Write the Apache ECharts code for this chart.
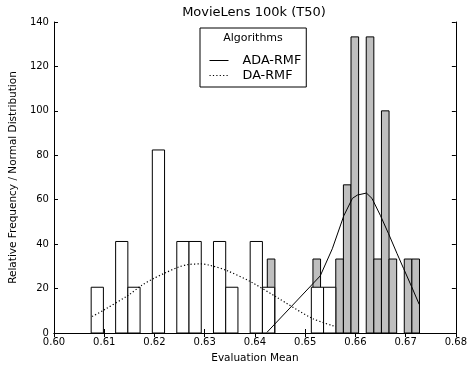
<!DOCTYPE html>
<html>
<head>
<meta charset="utf-8">
<script src="https://cdn.jsdelivr.net/npm/echarts@6/dist/echarts.min.js"></script>
<style>
  html, body { margin: 0; padding: 0; background: #fff; }
  #chart { width: 470px; height: 369px; }
</style>
</head>
<body>
<div id="chart"></div>
<script>
// histogram bins (DA-RMF white, ADA-RMF gray), density heights
const daStart = 0.6074;
const daWidth = 0.002435;
const daHeights = [20.6, 0, 41.2, 20.6, 0, 82.4, 0, 41.2, 41.2, 0, 41.2, 20.6, 0, 41.2, 20.6, 0, 0, 0, 20.6, 20.6];

const adaStart = 0.64246;
const adaWidth = 0.001515;
const adaHeights = [33.3, 0, 0, 0, 0, 0, 33.3, 0, 0, 33.3, 66.7, 133.3, 0, 133.3, 33.3, 100, 33.3, 0, 33.3, 33.3];

// normal distribution curves
const adaCurveX = [0.6424, 0.6530, 0.6554, 0.6577, 0.6594, 0.6604, 0.6622, 0.6633, 0.6650, 0.6666, 0.6683, 0.6696, 0.6712, 0.6727];
const adaCurveY = [0.3, 25.7, 37.9, 52.8, 60.6, 62.1, 63.0, 60.6, 52.8, 44.7, 35.7, 29.0, 20.8, 12.9];

const daCurveX = [0.6076, 0.6099, 0.6148, 0.6175, 0.6198, 0.6221, 0.6247, 0.6267, 0.6293, 0.6310, 0.6343, 0.6392, 0.6442, 0.6514, 0.6561];
const daCurveY = [7.4, 10.3, 17.0, 21.5, 24.5, 27.0, 29.6, 30.8, 31.1, 30.5, 28.2, 23.0, 16.3, 6.6, 2.9];

const xTicks = ['0.60', '0.61', '0.62', '0.63', '0.64', '0.65', '0.66', '0.67', '0.68'];

const FONT = 'DejaVu Sans';

function binsOf(start, width, heights) {
  const out = [];
  heights.forEach((h, i) => {
    if (h > 0) out.push([start + i * width, start + (i + 1) * width, h]);
  });
  return out;
}

function histSeries(name, data, fill) {
  return {
    type: 'custom',
    name: name,
    silent: true,
    data: data,
    encode: { x: [0, 1], y: 2 },
    renderItem: function (params, api) {
      const p0 = api.coord([api.value(0), api.value(2)]);
      const p1 = api.coord([api.value(1), 0]);
      return {
        type: 'rect',
        shape: { x: p0[0], y: p0[1], width: p1[0] - p0[0], height: p1[1] - p0[1] },
        style: { fill: fill, stroke: '#000', lineWidth: 1 }
      };
    }
  };
}

const axisCommon = {
  axisLine: { show: true, lineStyle: { color: '#000', width: 1 } },
  axisTick: { show: true, inside: true, length: 4, lineStyle: { color: '#000' } },
  splitLine: { show: false }
};

const option = {
  animation: false,
  grid: { left: 52, right: 14, top: 22, bottom: 34 },
  graphic: [
    {
      type: 'text', x: 254, y: 13,
      style: { text: 'MovieLens 100k (T50)', font: '13px "DejaVu Sans"', fill: '#000', align: 'center', verticalAlign: 'middle' }
    },
    {
      type: 'text', x: 253, y: 38.5,
      style: { text: 'Algorithms', font: '11px "DejaVu Sans"', fill: '#000', align: 'center', verticalAlign: 'middle' },
      z: 100
    }
  ],
  legend: {
    orient: 'vertical',
    left: 200,
    top: 28,
    padding: [26, 5, 5, 9],
    itemWidth: 19,
    itemHeight: 13,
    itemGap: 2,
    backgroundColor: '#fff',
    borderColor: '#000',
    borderWidth: 1,
    borderRadius: 0,
    itemStyle: { opacity: 0 },
    lineStyle: { width: 1 },
    textStyle: { fontFamily: FONT, fontSize: 12.8, color: '#000', padding: [0, 0, 0, 9] },
    data: ['ADA-RMF', 'DA-RMF']
  },
  xAxis: [
    Object.assign({}, axisCommon, {
      type: 'value', min: 0.6, max: 0.68, interval: 0.01,
      axisLabel: {
        color: '#000', fontFamily: FONT, fontSize: 10, margin: 4,
        formatter: (v) => xTicks[Math.round((v - 0.6) / 0.01)]
      },
      name: 'Evaluation Mean', nameLocation: 'middle', nameGap: 20,
      nameTextStyle: { color: '#000', fontFamily: FONT, fontSize: 10.5 }
    }),
    Object.assign({}, axisCommon, {
      type: 'value', min: 0.6, max: 0.68, interval: 0.01, position: 'top',
      axisLabel: { show: false }
    })
  ],
  yAxis: [
    Object.assign({}, axisCommon, {
      type: 'value', min: 0, max: 140, interval: 20,
      axisLabel: { color: '#000', fontFamily: FONT, fontSize: 10, margin: 5 },
      name: 'Relative Frequency / Normal Distribution', nameLocation: 'middle', nameGap: 27,
      nameTextStyle: { color: '#000', fontFamily: FONT, fontSize: 10.5 }
    }),
    Object.assign({}, axisCommon, {
      type: 'value', min: 0, max: 140, interval: 20, position: 'right',
      axisLabel: { show: false }
    })
  ],
  series: [
    histSeries('ADA-RMF bins', binsOf(adaStart, adaWidth, adaHeights), '#bfbfbf'),
    histSeries('DA-RMF bins', binsOf(daStart, daWidth, daHeights), '#fff'),
    {
      type: 'line',
      name: 'ADA-RMF',
      data: adaCurveX.map((x, i) => [x, adaCurveY[i]]),
      showSymbol: false,
      symbol: 'none',
      z: 5,
      color: '#000',
      lineStyle: { color: '#000', width: 1 }
    },
    {
      type: 'line',
      name: 'DA-RMF',
      data: daCurveX.map((x, i) => [x, daCurveY[i]]),
      showSymbol: false,
      symbol: 'none',
      smooth: 0.3,
      z: 5,
      color: '#000',
      lineStyle: { color: '#000', width: 1.2, type: [1.2, 2.2] }
    }
  ]
};

const chart = echarts.init(document.getElementById('chart'), null, { renderer: 'canvas' });
chart.setOption(option);
</script>
</body>
</html>
